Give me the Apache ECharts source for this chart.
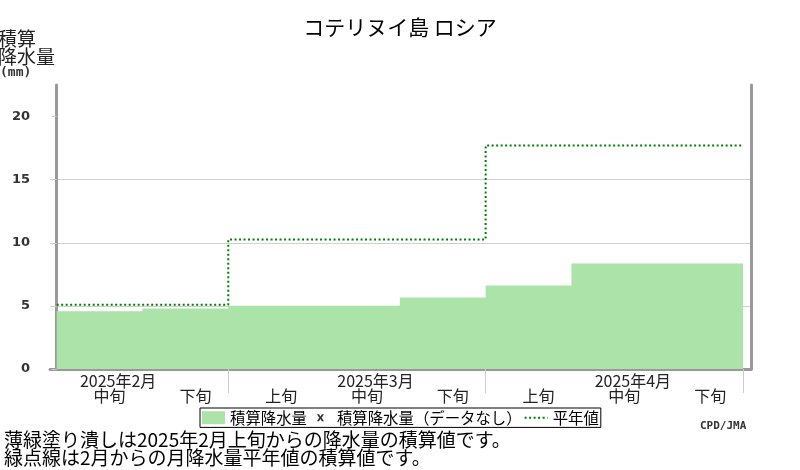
<!DOCTYPE html>
<html>
<head>
<meta charset="utf-8">
<script src="https://cdn.jsdelivr.net/npm/echarts@6/dist/echarts.min.js"></script>
<style>
  html, body { margin: 0; padding: 0; background: #fff; }
  #main { width: 800px; height: 470px; }
</style>
</head>
<body>
<div id="main"></div>
<script>
// 旬ごとの積算降水量 (2025年2月中旬〜4月下旬)
const decadeNames = ['中旬', '下旬', '上旬', '中旬', '下旬', '上旬', '中旬', '下旬'];
const monthTitles = ['2025年2月', '', '', '2025年3月', '', '', '2025年4月', ''];
const accumPrecip = [4.57, 4.79, 5.02, 5.02, 5.66, 6.61, 8.36, 8.36];

// 月平年値の積算 (各月の最初の旬の位置から)
const monthStart = [0, 2, 5];
const normalAccum = [5.1, 10.26, 17.7];
const lastEnd = 8;

const yTicks = [0, 5, 10, 15, 20];
const monthEdges = [2, 5, 8];

const cjk = "'Noto Sans CJK JP', sans-serif";

// 折れ線(ステップ)用のデータ
const precipData = accumPrecip.map((v, i) => [i, v]);
precipData.push([lastEnd, accumPrecip[accumPrecip.length - 1]]);
const normalData = monthStart.map((s, i) => [s, normalAccum[i]]);
normalData.push([lastEnd, normalAccum[normalAccum.length - 1]]);

const labelPos = decadeNames.map((d, i) => i + 0.5);

// 凡例用の小さい x 記号 (余白込みのパス)
const xMark = 'path://M-8,-2.5L-8,-2.49Z M1,1L3.4,1L5,3.6L6.6,1L9,1L6.3,5L9,9L6.6,9L5,6.4L3.4,9L1,9L3.7,5Z M18,12.2L18,12.19Z';

let chart = echarts.init(document.getElementById('main'));

let option = {
    animation: false,
    title: {
        text: 'コテリヌイ島 ロシア',
        left: 'center',
        top: 12,
        textStyle: {fontFamily: cjk, fontSize: 21, fontWeight: 'normal', color: '#000'}
    },
    grid: {left: 50, right: 49, top: 85, bottom: 101},
    legend: {
        left: 200,
        top: 408,
        padding: [2, 2],
        itemGap: 2,
        itemWidth: 23,
        itemHeight: 13,
        borderColor: '#000',
        borderWidth: 1,
        textStyle: {fontFamily: cjk, fontSize: 15.4, color: '#000'},
        data: [
            {name: '積算降水量', icon: 'rect'},
            {name: '積算降水量（データなし）', icon: xMark},
            {name: '平年値', itemStyle: {opacity: 0}}
        ]
    },
    xAxis: {
        type: 'value',
        min: -0.078,
        max: 8.093,
        splitLine: {show: false},
        axisLine: {show: true, lineStyle: {color: '#999', width: 3}},
        axisTick: {show: true, customValues: monthEdges, length: 24, lineStyle: {color: '#ccc', width: 1}},
        axisLabel: {
            customValues: labelPos,
            margin: 5,
            formatter: function (val) {
                let i = Math.floor(val);
                let m = monthTitles[i] || ' ';
                return '{m|' + m + '}\n{d|' + decadeNames[i] + '}';
            },
            rich: {
                m: {fontFamily: cjk, fontSize: 16, lineHeight: 14, color: '#222', padding: [0, 0, 0, 37]},
                d: {fontFamily: cjk, fontSize: 16, lineHeight: 15, color: '#222', padding: [0, 0, 0, 20]}
            }
        }
    },
    yAxis: [{
        type: 'value',
        min: 0,
        max: 22.5,
        interval: 5,
        axisLine: {show: true, lineStyle: {color: '#999', width: 3}},
        axisTick: {show: true, customValues: yTicks, length: 5, lineStyle: {color: '#ccc'}},
        axisLabel: {
            customValues: yTicks,
            margin: 20,
            fontFamily: 'DejaVu Sans',
            fontWeight: 'bold',
            fontSize: 13,
            color: '#333'
        },
        splitLine: {show: true, showMaxLine: false, lineStyle: {color: '#d0d0d0'}}
    }, {
        type: 'value',
        position: 'right',
        min: 0,
        max: 22.5,
        axisLine: {show: true, lineStyle: {color: '#999', width: 3}},
        axisTick: {show: false},
        axisLabel: {show: false},
        splitLine: {show: false}
    }],
    graphic: [
        {type: 'text', left: -2, top: 29,
         style: {text: '積算\n降水量', font: "19px 'Noto Sans CJK JP'", lineHeight: 18, fill: '#222'}},
        {type: 'text', left: 0, top: 66,
         style: {text: '(mm)', font: "bold 13px 'DejaVu Sans Mono'", fill: '#333'}},
        {type: 'text', left: 700, top: 421,
         style: {text: 'CPD/JMA', font: "bold 11px 'DejaVu Sans Mono'", fill: '#333'}},
        {type: 'text', left: 4, top: 430,
         style: {text: '薄緑塗り潰しは2025年2月上旬からの降水量の積算値です。\n緑点線は2月からの月降水量平年値の積算値です。',
                 font: "19px 'Noto Sans CJK JP'", lineHeight: 18, fill: '#000'}}
    ],
    series: [{
        name: '積算降水量',
        type: 'line',
        step: 'end',
        data: precipData,
        symbol: 'none',
        color: '#ace3a9',
        lineStyle: {width: 0},
        areaStyle: {color: '#ace3a9', opacity: 1},
        z: 2
    }, {
        name: '積算降水量（データなし）',
        type: 'scatter',
        data: [],
        color: '#000'
    }, {
        name: '平年値',
        type: 'line',
        step: 'end',
        data: normalData,
        symbol: 'none',
        color: '#008000',
        lineStyle: {color: '#008000', width: 2, type: [2, 2.5]},
        z: 3
    }]
};

chart.setOption(option);

window.onresize = function () {
    chart.resize();
};
</script>
</body>
</html>
